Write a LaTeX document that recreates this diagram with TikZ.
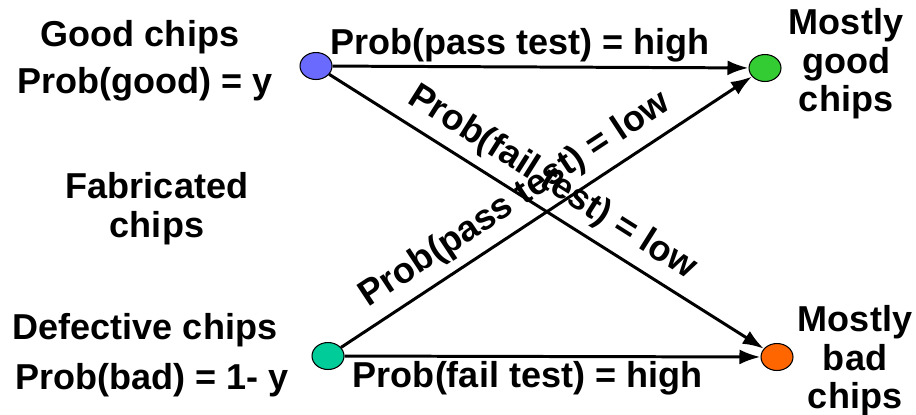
\documentclass[tikz,border=0pt]{standalone}
\usepackage{fontspec}
\setmainfont{Liberation Sans}
\usetikzlibrary{shapes.geometric, arrows.meta, positioning}
\definecolor{goodblue}{RGB}{106,106,255}
\definecolor{goodgreen}{RGB}{51,204,51}
\definecolor{defteal}{RGB}{0,204,153}
\definecolor{badorange}{RGB}{255,102,0}
\tikzstyle{chipdot} = [ellipse, draw=black, line width=0.6pt, minimum width=0.64cm, minimum height=0.54cm, inner sep=0pt]
\tikzstyle{label} = [font=\fontsize{20.5}{22}\selectfont\bfseries, align=center, inner sep=2pt]
\tikzstyle{arrow} = [line width=1.7pt, -{Latex[length=0.42cm,width=0.3cm]}]

\begin{document}
\begin{tikzpicture}[x=0.02cm, y=-0.02cm]
\useasboundingbox (0,0) rectangle (916,414);

% Nodes
\node (good) [chipdot, fill=goodblue] at (316,66) {};
\node (defective) [chipdot, fill=defteal] at (328,356) {};
\node (mgood) [chipdot, fill=goodgreen] at (765,68) {};
\node (mbad) [chipdot, fill=badorange] at (777,357) {};

\node (goodtxt) [label] at (140,37) {Good chips};
\node (probgood) [label] at (145,84) {Prob(good) = y};
\node (fab) [label] at (157,209) {Fabricated\\chips};
\node (deftxt) [label] at (145,330) {Defective chips};
\node (probbad) [label] at (152,380) {Prob(bad) = 1- y};
\node (mgoodtxt) [label] at (846,64) {Mostly\\good\\chips};
\node (mbadtxt) [label] at (855,361) {Mostly\\bad\\chips};

% Arrows
\draw [arrow] (good) -- node[label, above, pos=0.45] {Prob(pass test) = high} (mgood);
\draw [arrow] (defective) -- node[label, below, pos=0.44] {Prob(fail test) = high} (mbad);
\draw [arrow] (good) -- node[label, sloped, above, pos=0.48, inner sep=5pt] {Prob(fail test) = low} (mbad);
\draw [arrow] (defective) -- node[label, sloped, above, pos=0.46, inner sep=5pt] {Prob(pass test) = low} (mgood);

\end{tikzpicture}
\end{document}
